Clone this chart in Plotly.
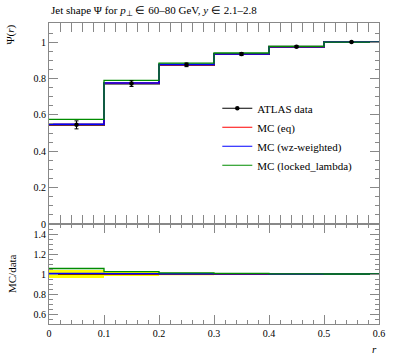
import plotly.graph_objects as go

edges = [0.0, 0.1, 0.2, 0.3, 0.4, 0.5, 0.6]
centers = [0.05, 0.15, 0.25, 0.35, 0.45, 0.55]
data = [0.545, 0.772, 0.875, 0.934, 0.975, 1.0]
data_err = [0.022, 0.016, 0.01, 0.008, 0.005, 0.002]
mc_eq = [0.547, 0.774, 0.876, 0.935, 0.975, 1.0]
mc_wz = [0.548, 0.775, 0.877, 0.935, 0.975, 1.0]
mc_locked = [0.575, 0.79, 0.884, 0.94, 0.977, 1.0]

x_ticks = [0, 0.1, 0.2, 0.3, 0.4, 0.5, 0.6]
x_ticklabels = ["0", "0.1", "0.2", "0.3", "0.4", "0.5", "0.6"]

FONT = "Liberation Serif"
C_DATA = "black"
C_EQ = "red"
C_WZ = "blue"
C_LOCK = "rgb(0,140,0)"
AX = "#888888"


def step(vals):
    return list(vals) + [vals[-1]]


fig = go.Figure()

# ----- main panel -----
fig.add_trace(go.Scatter(x=edges, y=step(data), mode="lines", line=dict(color=C_DATA, width=2, shape="hv"),
                         showlegend=False, xaxis="x", yaxis="y2"))
fig.add_trace(go.Scatter(x=edges, y=step(mc_eq), mode="lines", line=dict(color=C_EQ, width=1.5, shape="hv"),
                         showlegend=False, xaxis="x", yaxis="y2"))
fig.add_trace(go.Scatter(x=edges, y=step(mc_wz), mode="lines", line=dict(color=C_WZ, width=1.5, shape="hv"),
                         showlegend=False, xaxis="x", yaxis="y2"))
fig.add_trace(go.Scatter(x=edges, y=step(mc_locked), mode="lines", line=dict(color=C_LOCK, width=1.3, shape="hv"),
                         showlegend=False, xaxis="x", yaxis="y2"))
fig.add_trace(go.Scatter(x=centers, y=data, mode="markers", marker=dict(color=C_DATA, size=4.5),
                         error_y=dict(type="data", array=data_err, color=C_DATA, width=2, thickness=1),
                         showlegend=False, xaxis="x", yaxis="y2"))

# legend entries
fig.add_trace(go.Scatter(x=[None], y=[None], mode="lines+markers", name="ATLAS data",
                         line=dict(color=C_DATA, width=1.2), marker=dict(color=C_DATA, size=4.5), xaxis="x", yaxis="y2"))
fig.add_trace(go.Scatter(x=[None], y=[None], mode="lines", name="MC (eq)",
                         line=dict(color=C_EQ, width=1.2), xaxis="x", yaxis="y2"))
fig.add_trace(go.Scatter(x=[None], y=[None], mode="lines", name="MC (wz-weighted)",
                         line=dict(color=C_WZ, width=1.2), xaxis="x", yaxis="y2"))
fig.add_trace(go.Scatter(x=[None], y=[None], mode="lines", name="MC (locked_lambda)",
                         line=dict(color=C_LOCK, width=1.2), xaxis="x", yaxis="y2"))

# ----- ratio panel -----
band_lo = [1 - e / d for e, d in zip(data_err, data)]
band_hi = [1 + e / d for e, d in zip(data_err, data)]
fig.add_trace(go.Scatter(x=edges, y=step(band_lo), mode="lines", line=dict(color="rgba(0,0,0,0)", width=0, shape="hv"),
                         showlegend=False, xaxis="x", yaxis="y"))
fig.add_trace(go.Scatter(x=edges, y=step(band_hi), mode="lines", line=dict(color="rgba(0,0,0,0)", width=0, shape="hv"),
                         fill="tonexty", fillcolor="yellow", showlegend=False, xaxis="x", yaxis="y"))
fig.add_trace(go.Scatter(x=edges, y=step([1.0] * len(data)), mode="lines", line=dict(color=C_DATA, width=1.5, shape="hv"),
                         showlegend=False, xaxis="x", yaxis="y"))
for vals, col in [(mc_eq, C_EQ), (mc_wz, C_WZ), (mc_locked, C_LOCK)]:
    r = [m / d for m, d in zip(vals, data)]
    fig.add_trace(go.Scatter(x=edges, y=step(r), mode="lines", line=dict(color=col, width=1.3, shape="hv"),
                             showlegend=False, xaxis="x", yaxis="y"))

split = (324 - 224) / 301.0

common_axis = dict(showgrid=False, zeroline=False, showline=True, linecolor=AX, linewidth=1,
                   ticks="inside", tickcolor=AX, mirror="allticks",
                   tickfont=dict(family=FONT, size=10, color="black"))

fig.update_layout(
    width=397, height=358,
    margin=dict(l=49, r=13, t=23, b=34),
    paper_bgcolor="white", plot_bgcolor="white",
    font=dict(family=FONT, size=11, color="black"),
    xaxis=dict(range=[0, 0.6], tickvals=x_ticks, ticktext=x_ticklabels, ticklen=9,
               minor=dict(dtick=0.02, ticklen=4, tickcolor=AX, ticks="inside"),
               anchor="y", **common_axis),
    xaxis2=dict(range=[0, 0.6], tickvals=x_ticks, showticklabels=False, ticklen=9,
                minor=dict(dtick=0.02, ticklen=4, tickcolor=AX, ticks="inside"),
                anchor="y2", overlaying="x", **common_axis),
    yaxis=dict(domain=[0, split], range=[0.5, 1.5], tickvals=[0.6, 0.8, 1.0, 1.2, 1.4],
               ticktext=["0.6", "0.8", "1", "1.2", "1.4"], ticklen=9,
               minor=dict(dtick=0.05, ticklen=4, tickcolor=AX, ticks="inside"),
               anchor="x", **common_axis),
    yaxis2=dict(domain=[split, 1], range=[0, 1.105], tickvals=[0, 0.2, 0.4, 0.6, 0.8, 1.0],
                ticktext=["0", "0.2", "0.4", "0.6", "0.8", "1"], ticklen=9,
                minor=dict(dtick=0.05, ticklen=4, tickcolor=AX, ticks="inside"),
                anchor="x", **common_axis),
    legend=dict(x=0.51, y=0.765, xanchor="left", yanchor="top", bgcolor="rgba(0,0,0,0)",
                traceorder="normal",
                font=dict(family=FONT, size=11), itemwidth=30, tracegroupgap=0),
    annotations=[
        dict(text="Jet shape Ψ for <i>p</i><sub>⊥</sub> ∈ 60–80 GeV, <i>y</i> ∈ 2.1–2.8",
             x=0, y=1, xref="paper", yref="paper", xanchor="left", yanchor="bottom", yshift=3,
             showarrow=False, font=dict(family=FONT, size=11)),
        dict(text="Ψ(<i>r</i>)", x=0, y=1, xref="paper", yref="paper", xanchor="right", yanchor="top",
             xshift=-31, textangle=-90, showarrow=False, font=dict(family=FONT, size=11)),
        dict(text="MC/data", x=0, y=split / 2, xref="paper", yref="paper", xanchor="right", yanchor="middle",
             xshift=-29, textangle=-90, showarrow=False, font=dict(family=FONT, size=11)),
        dict(text="<i>r</i>", x=1, y=0, xref="paper", yref="paper", xanchor="right", yanchor="top",
             yshift=-17, showarrow=False, font=dict(family=FONT, size=11)),
    ],
)

fig.write_html("out.html", config={"displayModeBar": False},
               post_script="document.body.style.margin='0';")
